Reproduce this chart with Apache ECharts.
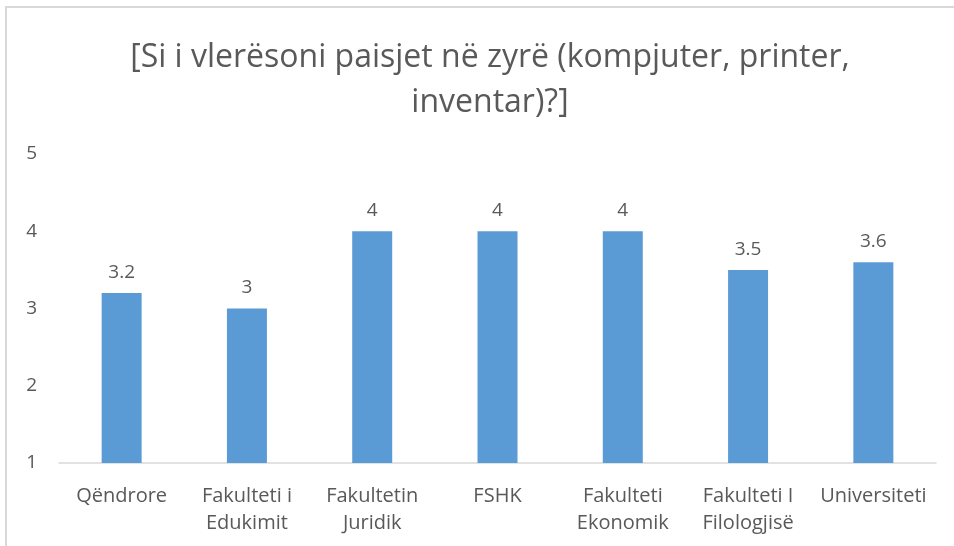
<!DOCTYPE html>
<html>
<head>
<meta charset="utf-8">
<script src="https://cdn.jsdelivr.net/npm/echarts@6/dist/echarts.min.js"></script>
<style>
  html, body { margin: 0; padding: 0; background: #fff; }
  #chart { width: 954px; height: 546px; }
</style>
</head>
<body>
<div id="chart"></div>
<script>
// Average rating of office equipment per unit
const categories = ['Qëndrore', 'Fakulteti i\nEdukimit', 'Fakultetin\nJuridik', 'FSHK', 'Fakulteti\nEkonomik', 'Fakulteti I\nFilologjisë', 'Universiteti'];
const ratings = [3.2, 3, 4, 4, 4, 3.5, 3.6];
const yTicks = [1, 2, 3, 4, 5];
const titleText = '[Si i vlerësoni paisjet në zyrë (kompjuter, printer,\ninventar)?]';

const FONT = '"Open Sans", "Liberation Sans", sans-serif';
const TEXT = '#595959';

const chart = echarts.init(document.getElementById('chart'));
chart.setOption({
  backgroundColor: '#ffffff',
  animation: false,
  title: {
    text: titleText,
    left: 485,
    top: 30,
    textAlign: 'center',
    textStyle: {
      fontFamily: FONT,
      fontSize: 32,
      fontWeight: 'normal',
      color: TEXT,
      lineHeight: 45
    }
  },
  graphic: [{
    type: 'rect',
    shape: { x: 6, y: 7, width: 1000, height: 600 },
    style: { fill: 'none', stroke: '#D9D9D9', lineWidth: 2 },
    silent: true
  }],
  grid: { left: 59, right: 18, top: 154, bottom: 83 },
  xAxis: {
    type: 'category',
    data: categories,
    axisLine: { lineStyle: { color: '#D9D9D9', width: 1.5 } },
    axisTick: { show: false },
    axisLabel: {
      interval: 0,
      margin: 20,
      color: TEXT,
      fontFamily: FONT,
      fontSize: 20,
      lineHeight: 27
    }
  },
  yAxis: {
    type: 'value',
    min: yTicks[0],
    max: yTicks[yTicks.length - 1],
    interval: 1,
    axisLine: { show: false },
    axisTick: { show: false },
    splitLine: { show: false },
    axisLabel: {
      margin: 22,
      color: TEXT,
      fontFamily: FONT,
      fontSize: 19
    }
  },
  series: [{
    type: 'bar',
    data: ratings,
    barWidth: 40,
    itemStyle: { color: '#5B9BD5' },
    label: {
      show: true,
      position: 'top',
      distance: 11,
      color: TEXT,
      fontFamily: FONT,
      fontSize: 19
    }
  }]
});
</script>
</body>
</html>
